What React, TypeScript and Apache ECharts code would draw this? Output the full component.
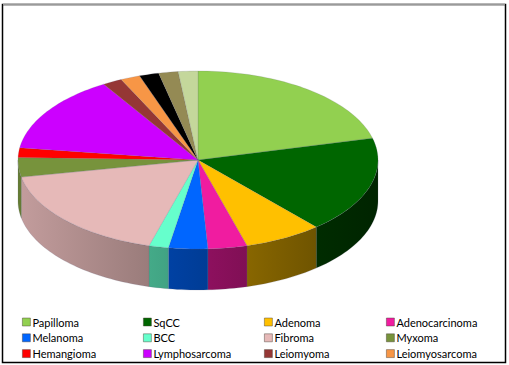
import React, { useEffect, useRef } from "react";
import * as echarts from "echarts";

// ---- data ----
const categories = [
  "Papilloma", "SqCC", "Adenoma", "Adenocarcinoma", "Melanoma", "BCC",
  "Fibroma", "Myxoma", "Hemangioma", "Lymphosarcoma", "Leiomyoma",
  "Leiomyosarcoma", "Other A", "Other B", "Other C",
];
const counts = [12, 10, 4, 2, 2, 1, 10, 2, 1, 8, 1, 1, 1, 1, 1];
const colors = [
  "#92D050", "#006600", "#FFC000", "#F01CA0", "#0066FF", "#66FFCC",
  "#E6B9B8", "#77933C", "#FF0000", "#CC00FF", "#953735", "#F79646",
  "#000000", "#948A54", "#C4D79B",
];
const legendColumns = [
  ["Papilloma", "Melanoma", "Hemangioma"],
  ["SqCC", "BCC", "Lymphosarcoma"],
  ["Adenoma", "Fibroma", "Leiomyoma"],
  ["Adenocarcinoma", "Myxoma", "Leiomyosarcoma"],
];

// ---- geometry / style ----
const CX = 198, CY = 160, RX = 180, RY = 89, DEPTH = 41;
const legendLefts = [22, 143, 264, 386];

function shade(hex: string, f: number): string {
  const h = hex.replace("#", "");
  const r = Math.round(parseInt(h.slice(0, 2), 16) * f);
  const g = Math.round(parseInt(h.slice(2, 4), 16) * f);
  const b = Math.round(parseInt(h.slice(4, 6), 16) * f);
  return `rgb(${r},${g},${b})`;
}
function sideFactor(x: number): number {
  const u = (x - (CX - RX)) / (2 * RX);
  return 0.85 - 0.5 * Math.max(0, Math.min(1, u));
}

export default function App() {
  const ref = useRef<HTMLDivElement>(null);
  useEffect(() => {
    if (!ref.current) return;
    const chart = echarts.init(ref.current, undefined, { renderer: "svg" });
    const total = counts.reduce((a, b) => a + b, 0);
    let acc = 0;
    const sliceData = counts.map((c, i) => {
      const item = { name: categories[i], value: [acc, acc + c] };
      acc += c;
      return item;
    });

    const renderItem = (params: any, api: any) => {
      const s = api.value(0) as number;
      const e = api.value(1) as number;
      const color = colors[params.dataIndex];
      const a0 = (s / total) * 2 * Math.PI - Math.PI / 2;
      const a1 = (e / total) * 2 * Math.PI - Math.PI / 2;
      const children: any[] = [];
      // side wall (front half only)
      const lo = Math.max(a0, 0);
      const hi = Math.min(a1, Math.PI);
      if (hi > lo) {
        const n = Math.max(2, Math.ceil((hi - lo) / (Math.PI / 120)));
        const top: number[][] = [];
        const bot: number[][] = [];
        for (let i = 0; i <= n; i++) {
          const t = lo + ((hi - lo) * i) / n;
          const x = CX + RX * Math.cos(t);
          const y = CY + RY * Math.sin(t);
          top.push([x, y]);
          bot.push([x, y + DEPTH]);
        }
        const xr = CX + RX * Math.cos(lo);
        const xl = CX + RX * Math.cos(hi);
        children.push({
          type: "polygon",
          shape: { points: top.concat(bot.reverse()) },
          style: {
            fill: new echarts.graphic.LinearGradient(
              xl, 0, xr, 0,
              [
                { offset: 0, color: shade(color, sideFactor(xl)) },
                { offset: 1, color: shade(color, sideFactor(xr)) },
              ],
              true
            ),
            stroke: "rgba(90,90,120,0.35)",
            lineWidth: 0.5,
          },
        });
      }
      // top face
      const n = Math.max(2, Math.ceil((a1 - a0) / (Math.PI / 120)));
      const pts: number[][] = [[CX, CY]];
      for (let i = 0; i <= n; i++) {
        const t = a0 + ((a1 - a0) * i) / n;
        pts.push([CX + RX * Math.cos(t), CY + RY * Math.sin(t)]);
      }
      children.push({
        type: "polygon",
        shape: { points: pts },
        style: { fill: color, stroke: "rgba(90,90,120,0.35)", lineWidth: 0.5 },
      });
      return { type: "group", children };
    };

    const legends = legendColumns.map((col, i) => ({
      orient: "vertical",
      left: legendLefts[i],
      top: 315,
      padding: 0,
      itemWidth: 8,
      itemHeight: 8,
      itemGap: 1.8,
      icon: "rect",
      selectedMode: false,
      data: col,
      itemStyle: { borderColor: "rgba(70,60,50,0.55)", borderWidth: 0.8 },
      textStyle: {
        fontFamily: "Lato, 'Open Sans', sans-serif",
        fontSize: 11,
        lineHeight: 14,
        color: "#000",
        padding: [0, 0, 0, -3],
      },
    }));

    chart.setOption({
      animation: false,
      backgroundColor: "#fff",
      legend: legends,
      graphic: [
        {
          type: "rect",
          shape: { x: 2.5, y: 4.5, width: 503, height: 358 },
          style: { fill: "none", stroke: "#000", lineWidth: 1.5 },
          z: 10,
        },
        {
          type: "line",
          shape: { x1: 3, y1: 4.5, x2: 505, y2: 4.5 },
          style: { stroke: "#9a9a9a", lineWidth: 1.5 },
          z: 11,
        },
      ],
      series: [
        {
          type: "custom",
          coordinateSystem: "none",
          renderItem,
          data: sliceData,
          silent: true,
        },
        {
          type: "pie",
          center: [-300, -300],
          radius: [0, 1],
          silent: true,
          label: { show: false },
          labelLine: { show: false },
          data: counts.map((c, i) => ({
            name: categories[i],
            value: c,
            itemStyle: { color: colors[i] },
          })),
        },
      ],
    });
    return () => chart.dispose();
  }, []);
  return (
    <div
      ref={ref}
      style={{ position: "fixed", left: 0, top: 0, width: 509, height: 365 }}
    />
  );
}
